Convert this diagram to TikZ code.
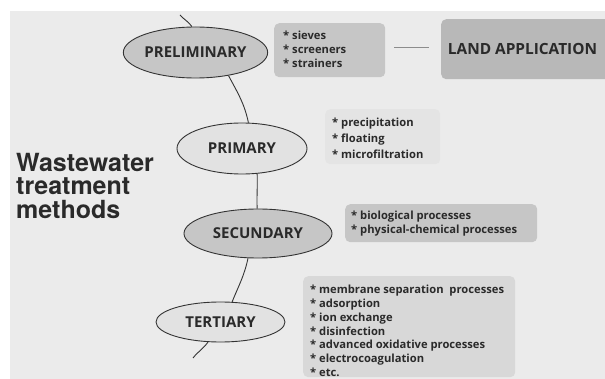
\documentclass[tikz,border=0pt]{standalone}
\usepackage{fontspec}
\setmainfont{Open Sans}
\newfontfamily\heros{TeX Gyre Heros}
\usetikzlibrary{shapes.geometric}
\definecolor{bgc}{HTML}{EBEBEB}
\definecolor{darkfill}{HTML}{C6C6C6}
\definecolor{lightfill}{HTML}{E2E2E2}
\definecolor{landfill}{HTML}{B8B8B8}
\definecolor{precfill}{HTML}{E4E4E4}
\definecolor{terfill}{HTML}{D8D8D8}
\definecolor{txt}{HTML}{2A2A2A}
\definecolor{linec}{HTML}{333333}
\tikzset{
  stage/.style={ellipse, draw=linec, line width=0.9pt, inner sep=0pt, text=txt,
    font=\fontsize{15}{18}\selectfont\bfseries},
  infobox/.style={rectangle, rounded corners=5pt, draw=none, anchor=north west, inner sep=0pt},
  infotext/.style={anchor=west, align=left, inner sep=0pt, text=txt,
    font=\fontsize{11.2}{14}\selectfont\bfseries},
  stem/.style={draw=linec, line width=0.9pt},
}
\begin{document}
\begin{tikzpicture}[x=1pt,y=1pt]
\useasboundingbox (0,0) rectangle (605,-379);
\fill[white] (0,0) rectangle (605,-379);
\fill[bgc] (10,-11) rectangle (605,-379);

% boxes
\node[infobox, fill=darkfill, minimum width=111pt, minimum height=54pt] (bsieve) at (274,-23) {};
\node[infobox, fill=landfill, minimum width=170pt, minimum height=60pt] (bland) at (441,-19) {};
\node[infobox, fill=precfill, minimum width=115pt, minimum height=55pt] (bprec) at (325,-109) {};
\node[infobox, fill=darkfill, minimum width=192pt, minimum height=38pt] (bbio) at (345,-204) {};
\node[infobox, fill=terfill, minimum width=212pt, minimum height=101pt] (bter) at (303,-276) {};

\node[infotext] (tsieve) at (283,-49) {* sieves\\* screeners\\* strainers};
\node[text=txt, font=\fontsize{15.4}{18}\selectfont\bfseries, inner sep=0pt] (tland) at (522.5,-49) {LAND APPLICATION};
\node[infotext, font=\fontsize{11.2}{16}\selectfont\bfseries] (tprec) at (332,-138) {* precipitation\\* floating\\* microfiltration};
\node[infotext] (tbio) at (351,-224) {* biological processes\\* physical-chemical processes};
\node[infotext, font=\fontsize{11.2}{13.8}\selectfont\bfseries] (tter) at (310,-331) {* membrane separation\ \ processes\\* adsorption\\* ion exchange\\* disinfection\\* advanced oxidative processes\\* electrocoagulation\\* etc.};

\coordinate (l1) at (394,-47);
\coordinate (l2) at (429,-47);
\draw[draw=black!45, line width=0.8pt] (l1) -- (l2);

% title
\node[anchor=north west, align=left, inner sep=0pt, text=txt,
  font=\heros\fontsize{25}{23.5}\selectfont\bfseries] (title) at (16,-153) {Wastewater\\treatment\\methods};

% stages
\node[stage, fill=darkfill, minimum width=124pt, minimum height=51pt] (pre) at (195.5,-52.5) {PRELIMINARY};
\node[stage, fill=lightfill, minimum width=130pt, minimum height=51pt] (pri) at (242,-148.5) {PRIMARY};
\node[stage, fill=darkfill, minimum width=148pt, minimum height=49pt] (sec) at (258,-233.5) {SECUNDARY};
\node[stage, fill=lightfill, minimum width=129pt, minimum height=40pt] (ter) at (220.5,-322) {TERTIARY};

\coordinate (c0) at (180,-15);
\coordinate (c1) at (193,-358);
\draw[stem] (c0) to[out=-48,in=125] (pre.98);
\draw[stem] (pre.-35.5) to[out=-62,in=102] (pri.76);
\draw[stem] (pri.-59.5) to[out=-88,in=92] (sec.92);
\draw[stem] (sec.-112) to[out=-102,in=68] (ter.60);
\draw[stem] (ter.-122) to[out=-125,in=52] (c1);
\end{tikzpicture}
\end{document}
